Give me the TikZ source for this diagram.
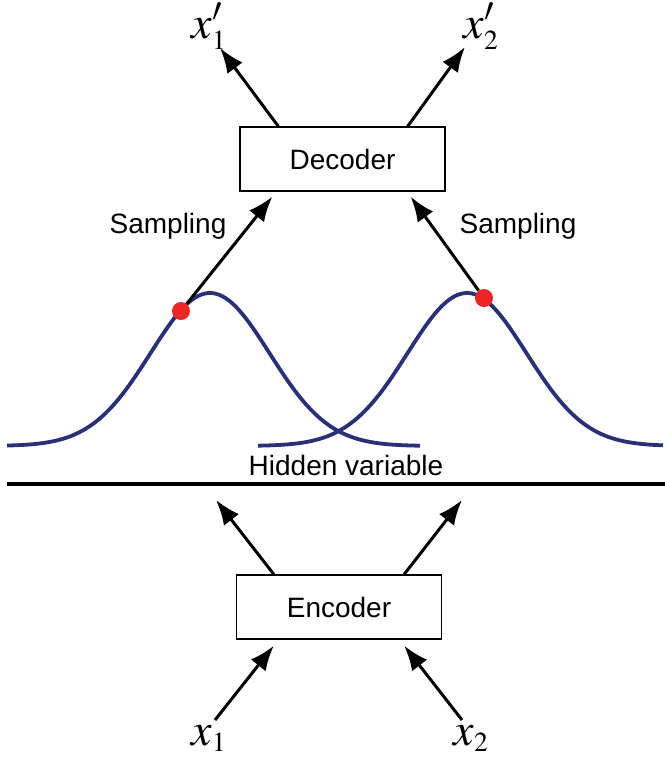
\documentclass[tikz,border=0pt]{standalone}
\usepackage{mathptmx}
\usepackage{fontspec}
\setsansfont{Liberation Sans}
\usetikzlibrary{arrows.meta, calc, positioning}
\definecolor{curveBlue}{RGB}{42,48,118}
\definecolor{dotRed}{RGB}{236,38,38}
\tikzset{
    codeBox/.style={rectangle, draw, line width=1.3pt, minimum width=205pt, minimum height=64pt, inner sep=0pt, font=\sffamily\fontsize{28}{32}\selectfont},
    flowArrow/.style={-{Latex[length=25pt,width=19pt]}, line width=3pt},
    sampleDot/.style={circle, fill=dotRed, inner sep=0pt, minimum size=18pt},
    gaussCurve/.style={curveBlue, line width=3.8pt},
    plainText/.style={font=\sffamily\fontsize{28}{32}\selectfont, inner sep=0pt},
    varText/.style={font=\fontsize{46}{50}\selectfont, inner sep=0pt, text height=24pt, text depth=8pt},
}
\newcommand{\gaussAt}[3]{
    % #1,#2 domain, #3 centre
    \draw[gaussCurve] plot[domain=#1:#2, samples=120, smooth] (\x, {446-153*exp(-0.5*((\x-#3)/59.5)^2)});
}

\begin{document}
\begin{tikzpicture}[x=1pt, y=-1pt]
        \useasboundingbox (0,0) rectangle (665,761);

        % boxes
        \node[codeBox] (dec) at (342.5,159) {Decoder};
        \node[codeBox] (enc) at (339,607) {Encoder};

        % variables
        \node[varText] (x1p) at (209,30) {$x'_{\scriptscriptstyle 1}$};
        \node[varText] (x2p) at (481,30) {$x'_{\scriptscriptstyle 2}$};
        \node[varText] (x1) at (209,737) {$x_{\scriptscriptstyle 1}$};
        \node[varText] (x2) at (471,737) {$x_{\scriptscriptstyle 2}$};

        % hidden layer
        \gaussAt{7}{420}{210}
        \gaussAt{258}{663}{467}
        \node[sampleDot] (dotL) at (181,311) {};
        \node[sampleDot] (dotR) at (484,298) {};
        \node[plainText] (hid) at (346,465) {Hidden variable};
        \node[plainText] (sampL) at (168,226) {Sampling};
        \node[plainText] (sampR) at (518,226) {Sampling};
        \coordinate (lineL) at (7,484);
        \coordinate (lineR) at (665,484);
        \draw[line width=3.5pt] (lineL) -- (lineR);

        % arrow ends
        \coordinate (decOutL) at ($(dec.north west)+(39,0)$);
        \coordinate (decOutR) at ($(dec.north east)+(-38,0)$);
        \coordinate (decInL) at ($(dec.south west)+(33,5)$);
        \coordinate (decInR) at ($(dec.south east)+(-35,5)$);
        \coordinate (encOutL) at ($(enc.north west)+(38,0)$);
        \coordinate (encOutR) at ($(enc.north east)+(-38,0)$);
        \coordinate (encInL) at ($(enc.south west)+(38,6)$);
        \coordinate (encInR) at ($(enc.south east)+(-38,6)$);
        \coordinate (tipL) at (220,48);
        \coordinate (tipR) at (465,47);
        \coordinate (hidL) at (216,500);
        \coordinate (hidR) at (462,500);
        \coordinate (srcL) at (215,720);
        \coordinate (srcR) at (462,720);

        \draw[flowArrow] (decOutL) -- (tipL);
        \draw[flowArrow] (decOutR) -- (tipR);
        \draw[flowArrow] (dotL) -- (decInL);
        \draw[flowArrow] (dotR) -- (decInR);
        \draw[flowArrow] (encOutL) -- (hidL);
        \draw[flowArrow] (encOutR) -- (hidR);
        \draw[flowArrow] (srcL) -- (encInL);
        \draw[flowArrow] (srcR) -- (encInR);

    \end{tikzpicture}
\end{document}
